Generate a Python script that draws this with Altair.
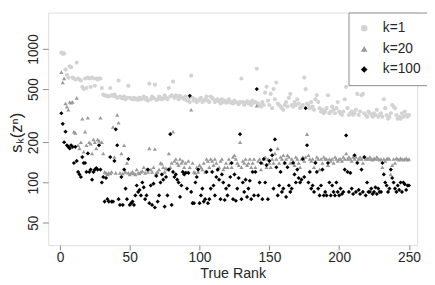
import altair as alt
import pandas as pd

rank = list(range(1, 251))

k1 = [
    940, 920, 925, 700, 640, 610, 740, 730, 610, 600,
    590, 790, 600, 590, 580, 520, 500, 600, 510, 610,
    600, 520, 610, 600, 530, 600, 590, 600, 600, 510,
    455, 450, 445, 445, 440, 510, 450, 445, 455, 440,
    430, 580, 440, 430, 425, 440, 420, 430, 530, 430,
    425, 420, 430, 420, 425, 415, 430, 420, 425, 440,
    420, 430, 410, 550, 420, 440, 430, 540, 415, 420,
    440, 430, 420, 425, 450, 430, 420, 510, 440, 450,
    570, 430, 450, 440, 420, 445, 435, 430, 420, 440,
    410, 420, 400, 630, 430, 410, 420, 400, 410, 420,
    430, 400, 410, 420, 440, 410, 400, 440, 430, 420,
    400, 410, 420, 405, 390, 420, 400, 410, 395, 400,
    420, 395, 400, 390, 410, 400, 395, 385, 400, 600,
    400, 380, 395, 405, 390, 400, 380, 410, 395, 400,
    710, 390, 380, 370, 400, 380, 470, 520, 410, 380,
    460, 360, 500, 420, 560, 390, 380, 370, 360, 350,
    380, 400, 370, 430, 460, 380, 370, 400, 380, 420,
    390, 360, 370, 380, 610, 500, 390, 380, 360, 400,
    370, 350, 420, 450, 400, 360, 340, 350, 330, 340,
    360, 450, 330, 340, 370, 350, 330, 360, 400, 340,
    330, 320, 340, 420, 520, 360, 320, 330, 340, 320,
    330, 350, 460, 320, 340, 450, 460, 330, 320, 310,
    340, 330, 320, 310, 330, 320, 350, 310, 320, 330,
    310, 420, 360, 320, 300, 310, 330, 380, 370, 360,
    320, 300, 310, 300, 330, 310, 340, 320, 310, 320,
]

k20 = [
    670, 560, 600, 390, 370, 350, 400, 395, 400, 240,
    235, 430, 190, 180, 200, 300, 170, 240, 190, 305,
    200, 195, 165, 210, 200, 180, 210, 205, 305, 200,
    165, 120, 118, 115, 118, 117, 120, 260, 155, 118,
    320, 280, 118, 165, 117, 190, 120, 140, 118, 115,
    118, 120, 117, 115, 125, 118, 117, 120, 122, 130,
    118, 125, 120, 180, 125, 120, 130, 178, 118, 120,
    125, 140, 138, 130, 120, 128, 125, 165, 130, 140,
    240, 145, 150, 140, 135, 150, 140, 145, 130, 140,
    120, 145, 130, 350, 140, 120, 118, 130, 120, 135,
    130, 125, 140, 120, 150, 145, 130, 150, 145, 135,
    150, 140, 125, 130, 145, 150, 125, 130, 140, 130,
    150, 140, 130, 155, 160, 150, 140, 135, 200, 130,
    145, 140, 150, 135, 140, 150, 130, 140, 150, 130,
    375, 145, 150, 125, 140, 150, 155, 130, 150, 140,
    130, 150, 140, 165, 150, 180, 140, 155, 150, 160,
    140, 150, 160, 155, 140, 150, 145, 135, 155, 150,
    140, 130, 150, 155, 145, 155, 230, 160, 150, 145,
    150, 130, 145, 155, 150, 125, 150, 140, 155, 150,
    150, 135, 150, 145, 150, 140, 155, 150, 145, 150,
    150, 145, 155, 150, 165, 150, 155, 150, 145, 155,
    150, 155, 145, 150, 155, 150, 140, 155, 150, 152,
    150, 155, 150, 148, 152, 150, 155, 150, 148, 150,
    130, 150, 145, 150, 152, 150, 115, 135, 150, 140,
    152, 150, 148, 152, 150, 148, 150, 152, 148, 150,
]

k100 = [
    330, 275, 200, 240, 190, 185, 180, 190, 185, 140,
    185, 145, 120, 115, 110, 155, 140, 140, 120, 165,
    120, 125, 105, 120, 125, 128, 125, 190, 125, 100,
    110, 72, 108, 75, 72, 155, 72, 72, 145, 250,
    190, 75, 68, 110, 68, 125, 90, 75, 150, 68,
    70, 72, 68, 80, 95, 85, 88, 80, 100, 92,
    75, 80, 125, 70, 95, 68, 98, 65, 112, 72,
    80, 100, 115, 105, 66, 110, 80, 125, 230, 68,
    120, 110, 115, 105, 100, 78, 95, 120, 115, 118,
    90, 118, 445, 85, 70, 70, 100, 110, 125, 70,
    80, 90, 72, 75, 120, 70, 75, 90, 120, 95,
    80, 110, 125, 105, 75, 115, 100, 74, 90, 80,
    95, 110, 140, 75, 115, 73, 90, 108, 230, 75,
    100, 85, 105, 78, 90, 103, 75, 120, 80, 120,
    500, 80, 100, 140, 75, 150, 100, 135, 75, 145,
    175, 160, 90, 210, 130, 80, 95, 120, 85, 90,
    140, 78, 130, 95, 85, 90, 140, 115, 100, 125,
    108, 100, 105, 150, 110, 360, 190, 100, 120, 90,
    95, 85, 140, 120, 90, 80, 95, 125, 80, 85,
    80, 140, 100, 80, 95, 85, 80, 100, 85, 80,
    90, 82, 85, 125, 225, 120, 85, 118, 90, 82,
    160, 85, 140, 88, 82, 125, 85, 155, 80, 100,
    85, 85, 90, 82, 85, 92, 82, 90, 85, 85,
    140, 115, 100, 95, 85, 90, 125, 108, 100, 90,
    85, 95, 88, 100, 85, 100, 97, 88, 95, 95,
]

series_labels = ["k=1", "k=20", "k=100"]
series_colors = ["#d3d3d3", "#999999", "#000000"]
series_shapes = ["circle", "triangle-up", "diamond"]

x_ticks = [0, 50, 100, 150, 200, 250]
y_ticks = [50, 100, 200, 500, 1000]

rows = []
for label, vals in zip(series_labels, [k1, k20, k100]):
    for r, v in zip(rank, vals):
        rows.append({"rank": r, "value": v, "series": label})
df = pd.DataFrame(rows)

W, H = 376, 237
font = "Liberation Sans"
axis_color = "#8c8c8c"
text_color = "#262626"

legend_opts = dict(
    title=None, orient="none", legendX=306, legendY=0,
    padding=9, strokeColor=axis_color, fillColor="white",
    labelFontSize=14, labelFont=font, labelColor=text_color,
    symbolSize=45, symbolStrokeWidth=0, labelOffset=12, rowPadding=7,
)

chart = alt.Chart(df).mark_point(filled=True, opacity=1, strokeWidth=0, size=18).encode(
    x=alt.X(
        "rank:Q",
        scale=alt.Scale(domain=[-8.4, 255.9], nice=False, zero=False),
        axis=alt.Axis(
            values=x_ticks, title="True Rank", grid=False, domain=False,
            tickSize=5, tickColor=axis_color, labelPadding=1,
            labelFontSize=14, titleFontSize=14.5, titlePadding=2,
            labelColor=text_color, titleColor=text_color,
            labelFont=font, titleFont=font, titleFontWeight="normal",
        ),
    ),
    y=alt.Y(
        "value:Q",
        scale=alt.Scale(type="log", domain=[34, 1871], nice=False),
        axis=alt.Axis(
            values=y_ticks, format="d", title="sₖ(zⁿ)", grid=False, domain=False,
            tickSize=6, tickColor=axis_color, labelPadding=2, labelAngle=270,
            labelAlign="center", labelBaseline="bottom",
            labelFontSize=14, titleFontSize=17, titleAngle=270,
            titleX=-32, titleY=122, titleBaseline="middle", titleAlign="center",
            labelColor=text_color, titleColor=text_color,
            labelFont=font, titleFont=font, titleFontWeight="normal",
        ),
    ),
    color=alt.Color(
        "series:N",
        scale=alt.Scale(domain=series_labels, range=series_colors),
        legend=alt.Legend(**legend_opts),
    ),
    shape=alt.Shape(
        "series:N",
        scale=alt.Scale(domain=series_labels, range=series_shapes),
        legend=alt.Legend(**legend_opts),
    ),
).properties(
    width=W, height=H,
    autosize=alt.AutoSizeParams(type="none"),
    padding={"left": 41, "top": 2, "right": 10, "bottom": 36},
).configure_view(
    stroke=axis_color, strokeWidth=1
).configure(background="white")

chart.save("out.html", embed_options={"renderer": "svg", "actions": False})
